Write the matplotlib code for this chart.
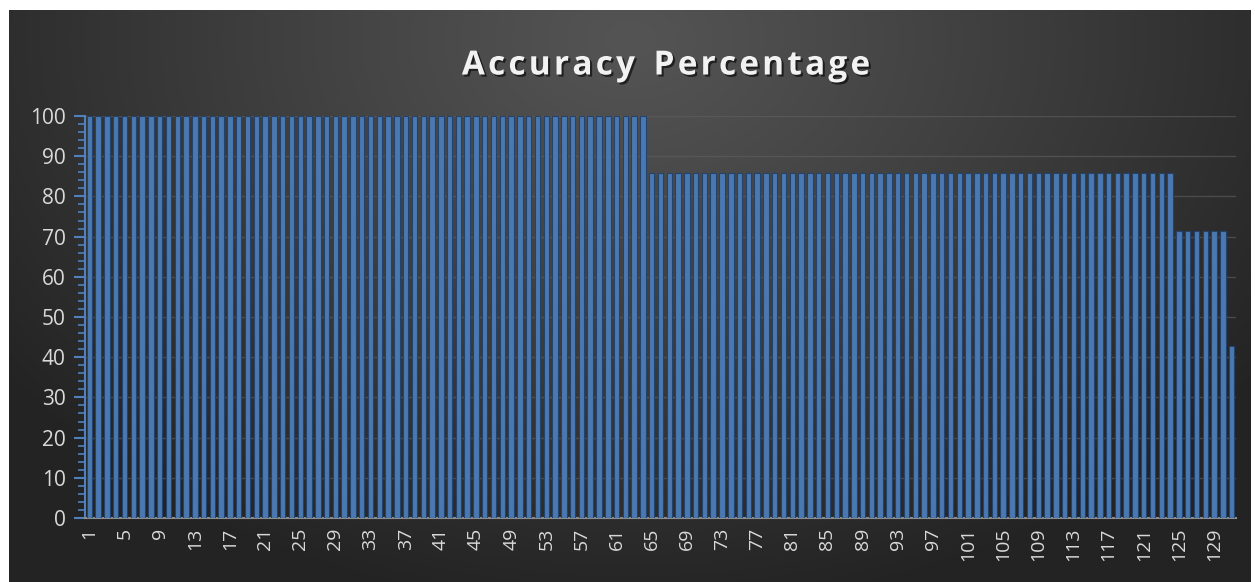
import numpy as np
import matplotlib
matplotlib.use('Agg')
import matplotlib.pyplot as plt
import matplotlib.patheffects as pe
from matplotlib.ticker import MultipleLocator

# 数据
samples = list(range(1, 132))
accuracy = [100.0] * 64 + [85.71] * 60 + [71.43] * 6 + [42.86]
tick_labels = [str(i) for i in samples[::4]]
title_str = 'Accuracy Percentage'

plt.rcParams['font.family'] = ['Open Sans', 'DejaVu Sans']

fig = plt.figure(figsize=(12.55, 5.82), dpi=100)
fig.patch.set_facecolor('white')

# 背景：径向渐变
bg = fig.add_axes([9 / 1255, 0, 1242 / 1255, 572 / 582])
h, w = 300, 650
yy, xx = np.mgrid[0:h, 0:w]
cx, cy = w * 0.5, h * 0.05
r = np.sqrt(((xx - cx) / (w * 0.62)) ** 2 + ((yy - cy) / (h * 1.0)) ** 2)
r = np.clip(r, 0, 1)
val = 0.33 - (0.33 - 0.14) * r ** 1.1
img = np.dstack([val, val, val])
bg.imshow(img, aspect='auto', extent=[0, 1, 0, 1], origin='upper')
bg.set_axis_off()

ax = fig.add_axes([85 / 1255, 1 - 518 / 582, (1236 - 85) / 1255, (518 - 116) / 582])
ax.patch.set_alpha(0)
ax.bar(samples, accuracy, width=0.62, color='#4a78b0', edgecolor='#23426c',
       linewidth=0.8, zorder=3)

ax.set_xlim(0.5, len(samples) + 0.5)
ax.set_ylim(0, 100)
ax.yaxis.set_major_locator(MultipleLocator(10))
ax.yaxis.set_minor_locator(MultipleLocator(2))
ax.set_xticks(samples[::4])
ax.set_xticklabels(tick_labels, rotation=90)
ax.grid(axis='y', color='#606060', linewidth=1, alpha=0.6, zorder=0)

for s in ['top', 'right']:
    ax.spines[s].set_visible(False)
ax.spines['left'].set_color('#4f81bd')
ax.spines['left'].set_linewidth(1.5)
ax.spines['bottom'].set_color('#8c8c8c')
ax.spines['bottom'].set_linewidth(1.5)

ax.tick_params(axis='y', which='major', length=8, width=1.5, color='#4f81bd',
               labelcolor='#d9d9d9', labelsize=15, pad=6)
ax.tick_params(axis='y', which='minor', length=5, width=1.2, color='#4f81bd')
ax.tick_params(axis='x', length=0, labelcolor='#d9d9d9', labelsize=14, pad=7)

# 标题：逐字排版以加大字距
renderer = fig.canvas.get_renderer()
spacing = 3.2
title_kw = dict(fontsize=24, fontweight='bold', color='#f2f2f2', va='center', ha='left')
widths = []
for ch in title_str:
    t = fig.text(0, 0, ch if ch != ' ' else 'n', **title_kw)
    widths.append(t.get_window_extent(renderer).width * (0.55 if ch == ' ' else 1.0))
    t.remove()
total = sum(widths) + spacing * (len(title_str) - 1)
x = 666 - total / 2
for ch, cw in zip(title_str, widths):
    if ch != ' ':
        t = fig.text(x / 1255, 1 - 66 / 582, ch, **title_kw)
        t.set_path_effects([pe.withSimplePatchShadow(offset=(1.5, -1.5),
                                                     shadow_rgbFace='black', alpha=0.6)])
    x += cw + spacing

fig.savefig('out.png', dpi=100)
